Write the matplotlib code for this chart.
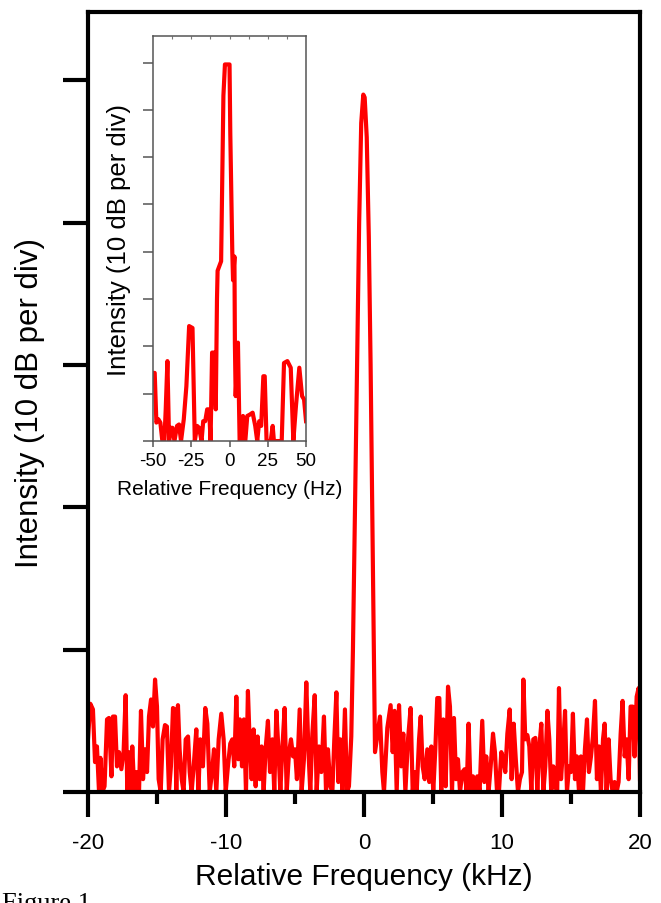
import matplotlib.pyplot as plt
import numpy as np

plt.rcParams['font.family'] = ['Liberation Sans', 'DejaVu Sans']
plt.rcParams['axes.unicode_minus'] = False

# main spectrum: relative frequency (kHz) vs intensity (divisions of 10 dB)
freq_khz = [
    -20.0, -19.83, -19.64, -19.49, -19.35, -19.2, -19.1, -18.96, -18.8, -18.62,
    -18.48, -18.3, -18.19, -18.04, -17.9, -17.75, -17.58, -17.42, -17.27, -17.15,
    -17.03, -16.9, -16.79, -16.64, -16.5, -16.3, -16.16, -16.01, -15.87, -15.72,
    -15.58, -15.43, -15.29, -15.14, -15.0, -14.88, -14.73, -14.59, -14.42, -14.28,
    -14.13, -13.99, -13.84, -13.7, -13.6, -13.48, -13.36, -13.21, -13.07, -12.92,
    -12.75, -12.63, -12.49, -12.34, -12.15, -12.0, -11.86, -11.67, -11.5, -11.35,
    -11.18, -11.01, -10.87, -10.7, -10.53, -10.34, -10.17, -10.02, -9.86, -9.69,
    -9.54, -9.4, -9.25, -9.11, -8.99, -8.84, -8.7, -8.55, -8.41, -8.29,
    -8.14, -8.0, -7.85, -7.71, -7.56, -7.42, -7.27, -7.13, -6.96, -6.81,
    -6.64, -6.5, -6.35, -6.21, -6.06, -5.92, -5.75, -5.6, -5.43, -5.29,
    -5.14, -5.0, -4.86, -4.66, -4.52, -4.35, -4.18, -4.03, -3.89, -3.74,
    -3.57, -3.43, -3.26, -3.09, -2.9, -2.75, -2.61, -2.44, -2.29, -2.15,
    -2.0, -1.86, -1.71, -1.57, -1.38, -1.23, -1.09, -0.92,
    -0.8, -0.65, -0.5, -0.35, -0.2, -0.05, 0.05, 0.2, 0.35, 0.48, 0.6, 0.72,
    0.8, 1.16, 1.33, 1.45, 1.69, 1.93, 2.08, 2.22, 2.37, 2.54,
    2.7, 2.85, 3.0, 3.19, 3.38, 3.53, 3.67, 3.82, 3.99, 4.11,
    4.25, 4.4, 4.59, 4.73, 4.88, 5.02, 5.17, 5.31, 5.46, 5.6,
    5.75, 5.92, 6.09, 6.23, 6.38, 6.52, 6.67, 6.81, 6.96, 7.13,
    7.29, 7.44, 7.58, 7.73, 7.9, 8.04, 8.21, 8.38, 8.57, 8.72,
    8.86, 9.03, 9.18, 9.35, 9.49, 9.64, 9.78, 9.95, 10.1, 10.24,
    10.39, 10.56, 10.7, 10.85, 11.0, 11.16, 11.3, 11.45, 11.55, 11.69,
    11.84, 11.98, 12.13, 12.27, 12.42, 12.56, 12.71, 12.85, 13.0, 13.14,
    13.29, 13.43, 13.57, 13.72, 13.86, 14.0, 14.13, 14.28, 14.42, 14.57,
    14.71, 14.86, 15.0, 15.14, 15.29, 15.43, 15.58, 15.72, 15.87, 16.01,
    16.16, 16.3, 16.45, 16.59, 16.74, 16.88, 17.03, 17.17, 17.32, 17.44,
    17.58, 17.73, 17.87, 18.02, 18.16, 18.31, 18.45, 18.6, 18.74, 18.89,
    19.03, 19.18, 19.32, 19.47, 19.61, 19.76, 19.9, 20.0,
]
intensity_div = [
    0.37, 0.62, 0.58, 0.21, 0.32, 0.0, 0.24, 0.0, 0.04, 0.51,
    0.52, 0.11, 0.53, 0.53, 0.18, 0.28, 0.16, 0.28, 0.68, 0.0,
    0.28, 0.0, 0.32, 0.0, 0.14, 0.0, 0.57, 0.09, 0.30, 0.14,
    0.53, 0.65, 0.46, 0.79, 0.60, 0.09, 0.0, 0.37, 0.47, 0.46,
    0.0, 0.18, 0.59, 0.58, 0.0, 0.61, 0.30, 0.09, 0.0, 0.37,
    0.39, 0.14, 0.0, 0.18, 0.44, 0.0, 0.37, 0.18, 0.59, 0.48,
    0.0, 0.14, 0.30, 0.0, 0.37, 0.55, 0.37, 0.0, 0.18, 0.34,
    0.37, 0.18, 0.67, 0.23, 0.51, 0.18, 0.51, 0.0, 0.71, 0.37,
    0.09, 0.44, 0.04, 0.39, 0.09, 0.32, 0.0, 0.30, 0.50, 0.14,
    0.37, 0.0, 0.57, 0.32, 0.0, 0.30, 0.59, 0.0, 0.28, 0.37,
    0.25, 0.30, 0.09, 0.58, 0.0, 0.23, 0.77, 0.30, 0.0, 0.41,
    0.68, 0.0, 0.32, 0.14, 0.53, 0.0, 0.30, 0.04, 0.0, 0.37,
    0.70, 0.07, 0.37, 0.0, 0.58, 0.0, 0.04, 0.39,
    1.0, 2.0, 3.0, 4.0, 4.7, 4.9, 4.88, 4.6, 3.9, 3.0, 2.0, 1.0,
    0.28, 0.53, 0.14, 0.0, 0.45, 0.61, 0.28, 0.57, 0.0, 0.61,
    0.18, 0.41, 0.0, 0.37, 0.59, 0.0, 0.14, 0.0, 0.37, 0.53,
    0.18, 0.09, 0.30, 0.07, 0.32, 0.0, 0.30, 0.66, 0.66, 0.0,
    0.51, 0.04, 0.74, 0.60, 0.0, 0.52, 0.09, 0.23, 0.0, 0.14,
    0.16, 0.0, 0.48, 0.0, 0.11, 0.0, 0.11, 0.0, 0.50, 0.07,
    0.25, 0.0, 0.18, 0.41, 0.28, 0.0, 0.0, 0.28, 0.23, 0.14,
    0.41, 0.58, 0.09, 0.48, 0.23, 0.0, 0.09, 0.14, 0.79, 0.37,
    0.40, 0.32, 0.0, 0.37, 0.38, 0.0, 0.32, 0.48, 0.0, 0.18,
    0.57, 0.37, 0.0, 0.18, 0.04, 0.0, 0.73, 0.09, 0.30, 0.57,
    0.0, 0.18, 0.14, 0.55, 0.09, 0.25, 0.0, 0.25, 0.0, 0.30,
    0.51, 0.14, 0.25, 0.39, 0.64, 0.09, 0.32, 0.0, 0.37, 0.48,
    0.0, 0.37, 0.09, 0.0, 0.07, 0.0, 0.07, 0.41, 0.64, 0.25,
    0.37, 0.09, 0.60, 0.60, 0.25, 0.67, 0.73, 0.09,
]

# inset: relative frequency (Hz)
freq_hz = [
    -50.0, -48.9, -47.8, -46.5, -45.2, -43.9, -42.6, -41.7, -40.6, -39.5,
    -38.4, -37.3, -36.0, -34.3, -33.0, -31.7, -29.9, -28.2, -26.4, -24.2,
    -22.7, -21.2, -19.9, -18.3, -17.2, -15.9, -14.6, -13.3, -12.4, -11.4,
    -10.0, -9.0, -8.2, -7.8, -5.5, -4.0, -3.0, 0.0, 0.5, 1.8,
    2.3, 3.2, 3.5, 4.0, 5.5, 6.6, 7.6, 8.8, 10.3, 11.6,
    13.3, 15.1, 16.8, 18.1, 19.4, 20.7, 22.1, 23.0, 24.2, 26.9,
    28.2, 29.0, 34.1, 35.6, 37.8, 40.0, 41.7, 43.4, 45.6, 47.4,
    48.7, 50.0,
]
inset_div = [
    1.44, 1.44, 0.39, 0.46, 0.39, 0.0, 0.0, 0.67, 1.69, 0.0,
    0.28, 0.28, 0.0, 0.32, 0.35, 0.0, 0.46, 1.16, 2.43, 2.39,
    0.0, 0.32, 0.28, 0.0, 0.42, 0.42, 0.67, 0.67, 0.0, 1.87,
    1.87, 0.67, 3.0, 3.6, 3.8, 7.3, 7.96, 7.96, 6.5, 4.0,
    3.4, 3.9, 2.08, 0.95, 2.08, 0.0, 0.0, 0.53, 0.0, 0.53,
    0.56, 0.60, 0.32, 0.0, 0.42, 0.32, 1.37, 1.37, 0.0, 0.0,
    0.32, 0.0, 0.0, 1.65, 1.69, 1.55, 0.0, 0.74, 1.55, 0.95,
    0.88, 0.42,
]

fig = plt.figure(figsize=(6.61, 9.04), dpi=100)
ax = fig.add_axes([0.1331, 0.1228, 0.8351, 0.8628])
ax.plot(freq_khz, intensity_div, color='#ff0000', lw=3.0, solid_joinstyle='round')
ax.set_xlim(-20, 20)
ax.set_ylim(0, 5.48)
ax.set_xticks([-20, -10, 0, 10, 20])
ax.set_xticklabels(['-20', '-10', '0', '10', '20'])
ax.set_xticks([-15, -5, 5, 15], minor=True)
ax.set_yticks([0, 1, 2, 3, 4, 5])
ax.set_yticklabels([])
for s in ax.spines.values():
    s.set_linewidth(3)
ax.tick_params(axis='both', which='major', direction='out', length=18, width=3, labelsize=16, pad=11)
ax.tick_params(axis='x', which='minor', direction='out', length=8.5, width=3)
ax.set_xlabel('Relative Frequency (kHz)', fontsize=21.5, labelpad=6)
ax.set_ylabel('Intensity (10 dB per div)', fontsize=22.5, labelpad=2)

# inset
axi = fig.add_axes([0.2315, 0.511, 0.2315, 0.448])
axi.plot(freq_hz, inset_div, color='#ff0000', lw=3.0, solid_joinstyle='round')
axi.set_xlim(-50, 50)
axi.set_ylim(0, 8.56)
axi.set_xticks([-50, -25, 0, 25, 50])
axi.set_yticks(range(0, 9))
axi.set_yticklabels([])
for s in axi.spines.values():
    s.set_linewidth(1.1)
    s.set_color('#555555')
axi.tick_params(axis='both', direction='out', color='#555555', width=1.1, labelsize=13.5, pad=4)
axi.tick_params(axis='y', length=7)
axi.tick_params(axis='x', length=4)
top = axi.secondary_xaxis('top')
top.set_xticks(np.arange(-37.5, 50, 12.5))
top.set_xticklabels([])
top.tick_params(direction='in', length=2, color='#777777', width=0.8)
top.spines['top'].set_visible(False)
axi.set_xlabel('Relative Frequency (Hz)', fontsize=15, labelpad=7)
axi.set_ylabel('Intensity (10 dB per div)', fontsize=18.5, labelpad=5)

fig.text(0.003, 0.012, 'Figure 1', fontsize=19, family='Liberation Serif', va='top')

fig.savefig('out.png', dpi=100)
